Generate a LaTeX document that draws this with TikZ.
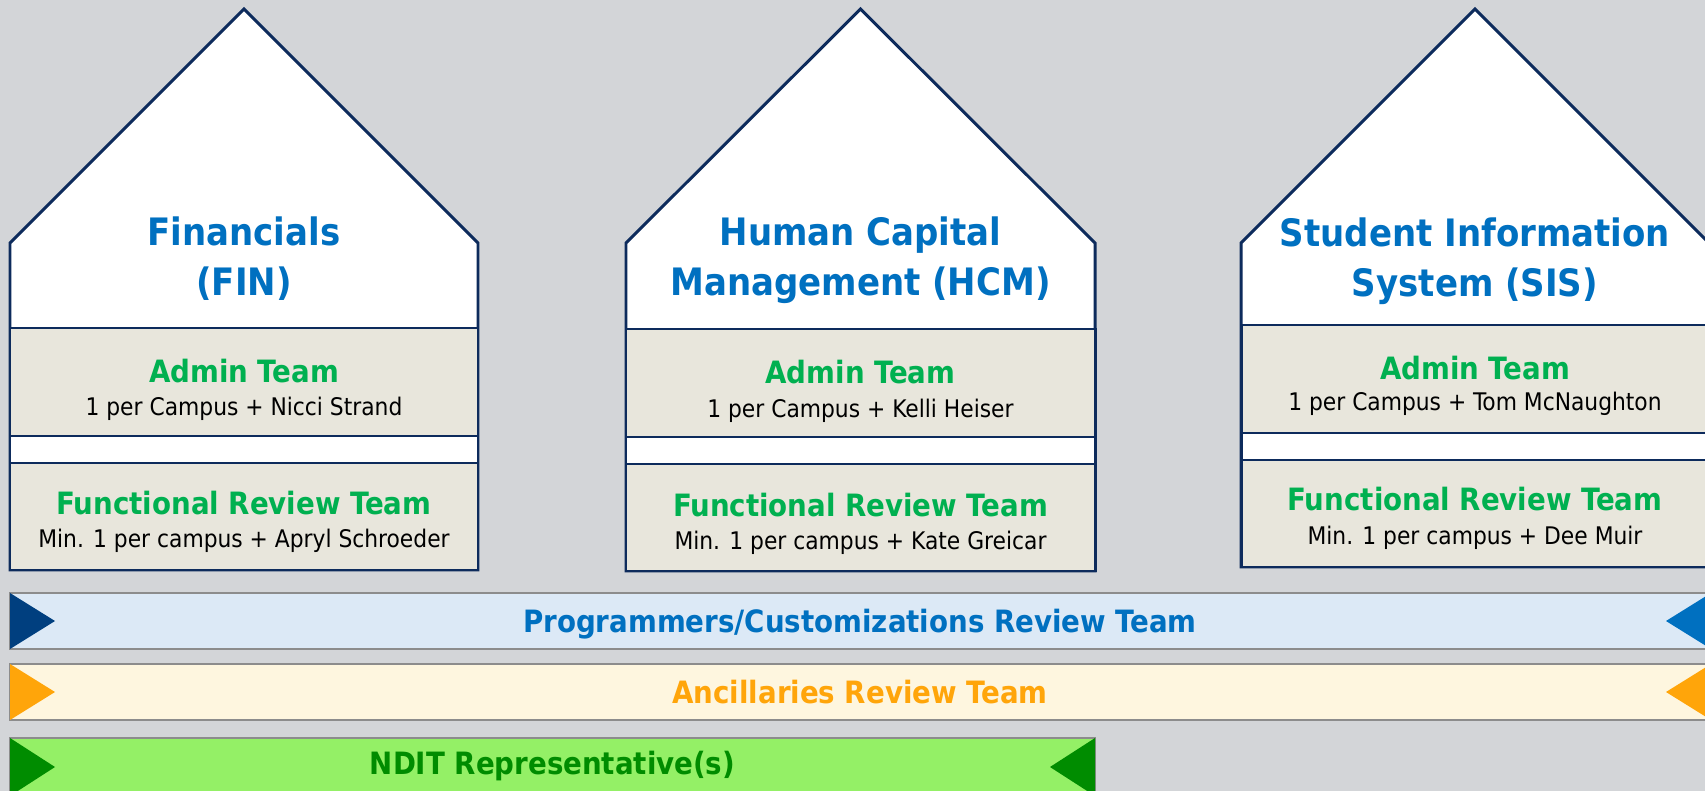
\documentclass[tikz,border=0pt]{standalone}
\usepackage{fontspec}
\setmainfont{DejaVu Sans Condensed}

\definecolor{bggray}{HTML}{D3D5D8}
\definecolor{navy}{HTML}{0D2B5C}
\definecolor{ttlblue}{HTML}{0070C0}
\definecolor{hdgreen}{HTML}{00B050}
\definecolor{boxfill}{HTML}{E8E6DC}
\definecolor{barline}{HTML}{8C8C8C}
\definecolor{progfill}{HTML}{DCE9F6}
\definecolor{progdark}{HTML}{003F7F}
\definecolor{ancfill}{HTML}{FEF6DF}
\definecolor{ancorange}{HTML}{FFA50A}
\definecolor{nditfill}{HTML}{94F066}
\definecolor{nditgreen}{HTML}{008C00}

\begin{document}
\begin{tikzpicture}[x=0.02cm, y=-0.02cm,
    house/.style={draw=navy, line width=1.7pt, fill=white, line join=miter},
    teambox/.style={draw=navy, line width=1.7pt, fill=boxfill},
    gapbox/.style={draw=navy, line width=1.7pt, fill=white},
    ttl/.style={font=\fontsize{21.5}{26}\selectfont\bfseries, text=ttlblue, anchor=base},
    hd/.style={font=\fontsize{17.5}{21}\selectfont\bfseries, text=hdgreen, anchor=base},
    sub/.style={font=\fontsize{13.8}{16}\selectfont, anchor=base},
    bar/.style={draw=barline, line width=0.8pt},
    btxt/.style={font=\fontsize{17.5}{21}\selectfont\bfseries, anchor=base}
]

\useasboundingbox (0,0) rectangle (1705,791);
\clip (0,0) rectangle (1705,791);
\fill[bggray] (0,0) rectangle (1705,791);

\draw[house] (10,570) -- (10,243) -- (244,9) -- (478,243) -- (478,570) -- cycle;
\draw[teambox] (10,328) rectangle (478,436);
\draw[gapbox] (10,436) rectangle (478,463);
\draw[teambox] (10,463) rectangle (478,570);
\node[ttl] (fin1) at (244,245) {Financials};
\node[ttl] (fin2) at (244,295) {(FIN)};
\node[hd] (finadm) at (244,382) {Admin Team};
\node[sub] (finadmsub) at (244,415) {1 per Campus + Nicci Strand};
\node[hd] (finfrt) at (244,514) {Functional Review Team};
\node[sub] (finfrtsub) at (244,547) {Min. 1 per campus + Apryl Schroeder};

\draw[house] (626,571) -- (626,243) -- (860.5,9) -- (1095,243) -- (1095,571) -- cycle;
\draw[teambox] (626,329) rectangle (1095,437);
\draw[gapbox] (626,437) rectangle (1095,464);
\draw[teambox] (626,464) rectangle (1095,571);
\node[ttl] (hcm1) at (860.5,245) {Human Capital};
\node[ttl] (hcm2) at (860.5,295) {Management (HCM)};
\node[hd] (hcmadm) at (860.5,383) {Admin Team};
\node[sub] (hcmadmsub) at (860.5,417) {1 per Campus + Kelli Heiser};
\node[hd] (hcmfrt) at (860.5,516) {Functional Review Team};
\node[sub] (hcmfrtsub) at (860.5,549) {Min. 1 per campus + Kate Greicar};

\draw[house] (1241,567) -- (1241,243) -- (1475,9) -- (1709,243) -- (1709,567) -- cycle;
\draw[teambox] (1241,325) rectangle (1709,433);
\draw[gapbox] (1241,433) rectangle (1709,460);
\draw[teambox] (1241,460) rectangle (1709,567);
\node[ttl] (sis1) at (1475,246) {Student Information};
\node[ttl] (sis2) at (1475,296) {System (SIS)};
\node[hd] (sisadm) at (1475,379) {Admin Team};
\node[sub] (sisadmsub) at (1475,410) {1 per Campus + Tom McNaughton};
\node[hd] (sisfrt) at (1475,510) {Functional Review Team};
\node[sub] (sisfrtsub) at (1475,544) {Min. 1 per campus + Dee Muir};

\draw[bar, fill=progfill] (10,593) rectangle (1712,649);
\fill[progdark] (10,593) -- (10,649) -- (55,621) -- cycle;
\fill[ttlblue] (1711,593) -- (1711,649) -- (1666,621) -- cycle;
\node[btxt, text=ttlblue] (prog) at (860,632) {Programmers/Customizations Review Team};

\draw[bar, fill=ancfill] (10,664) rectangle (1712,720);
\fill[ancorange] (10,664) -- (10,720) -- (55,692) -- cycle;
\fill[ancorange] (1711,664) -- (1711,720) -- (1666,692) -- cycle;
\node[btxt, text=ancorange] (anc) at (860,703) {Ancillaries Review Team};

\draw[bar, fill=nditfill] (10,738) rectangle (1095,796);
\fill[nditgreen] (10,738) -- (10,796) -- (55,767) -- cycle;
\fill[nditgreen] (1095,738) -- (1095,796) -- (1050,767) -- cycle;
\node[btxt, text=nditgreen] (ndit) at (552.5,774) {NDIT Representative(s)};

\end{tikzpicture}
\end{document}
